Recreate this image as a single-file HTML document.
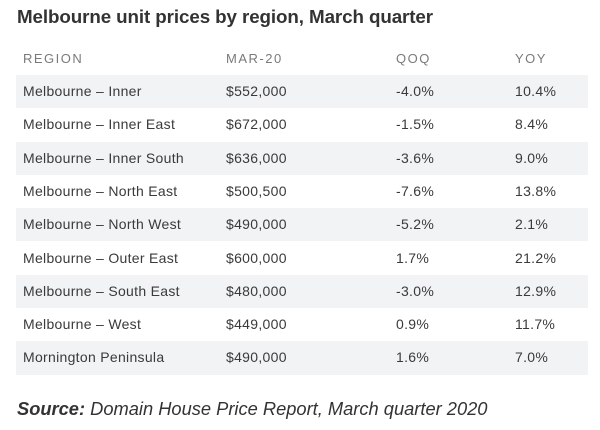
<!DOCTYPE html>
<html><head><style>
body{margin:0;width:600px;height:430px;background:#fff;font-family:"Liberation Sans",sans-serif;color:#3a3a3a;overflow:hidden;position:relative}
.t{position:absolute;left:17px;top:6px;font-size:18.8px;font-weight:bold;color:#333;letter-spacing:-0.1px}
.row{position:absolute;left:16px;width:572px;height:33.3px;font-size:14px;line-height:33.3px;letter-spacing:0.3px}
.row span{position:absolute;top:0}
.g{background:#f1f3f5}
.h{color:#7a7a7a;font-size:13px;letter-spacing:1.5px}
.src{position:absolute;left:17px;top:398px;font-size:18.3px;font-style:italic;color:#333}
</style></head><body>
<div class="t">Melbourne unit prices by region, March quarter</div>
<div class="row h" style="top:42px"><span style="left:7px">REGION</span><span style="left:210px">MAR-20</span><span style="left:380px">QOQ</span><span style="left:499px">YOY</span></div>
<div class="row g" style="top:75px"><span style="left:7px">Melbourne – Inner</span><span style="left:210px">$552,000</span><span style="left:380px">-4.0%</span><span style="left:499px">10.4%</span></div>
<div class="row" style="top:108.3px"><span style="left:7px">Melbourne – Inner East</span><span style="left:210px">$672,000</span><span style="left:380px">-1.5%</span><span style="left:499px">8.4%</span></div>
<div class="row g" style="top:141.6px"><span style="left:7px">Melbourne – Inner South</span><span style="left:210px">$636,000</span><span style="left:380px">-3.6%</span><span style="left:499px">9.0%</span></div>
<div class="row" style="top:174.9px"><span style="left:7px">Melbourne – North East</span><span style="left:210px">$500,500</span><span style="left:380px">-7.6%</span><span style="left:499px">13.8%</span></div>
<div class="row g" style="top:208.2px"><span style="left:7px">Melbourne – North West</span><span style="left:210px">$490,000</span><span style="left:380px">-5.2%</span><span style="left:499px">2.1%</span></div>
<div class="row" style="top:241.5px"><span style="left:7px">Melbourne – Outer East</span><span style="left:210px">$600,000</span><span style="left:380px">1.7%</span><span style="left:499px">21.2%</span></div>
<div class="row g" style="top:274.8px"><span style="left:7px">Melbourne – South East</span><span style="left:210px">$480,000</span><span style="left:380px">-3.0%</span><span style="left:499px">12.9%</span></div>
<div class="row" style="top:308.1px"><span style="left:7px">Melbourne – West</span><span style="left:210px">$449,000</span><span style="left:380px">0.9%</span><span style="left:499px">11.7%</span></div>
<div class="row g" style="top:341.4px"><span style="left:7px">Mornington Peninsula</span><span style="left:210px">$490,000</span><span style="left:380px">1.6%</span><span style="left:499px">7.0%</span></div>
<div class="src"><b>Source:</b> Domain House Price Report, March quarter 2020</div>
</body></html>
